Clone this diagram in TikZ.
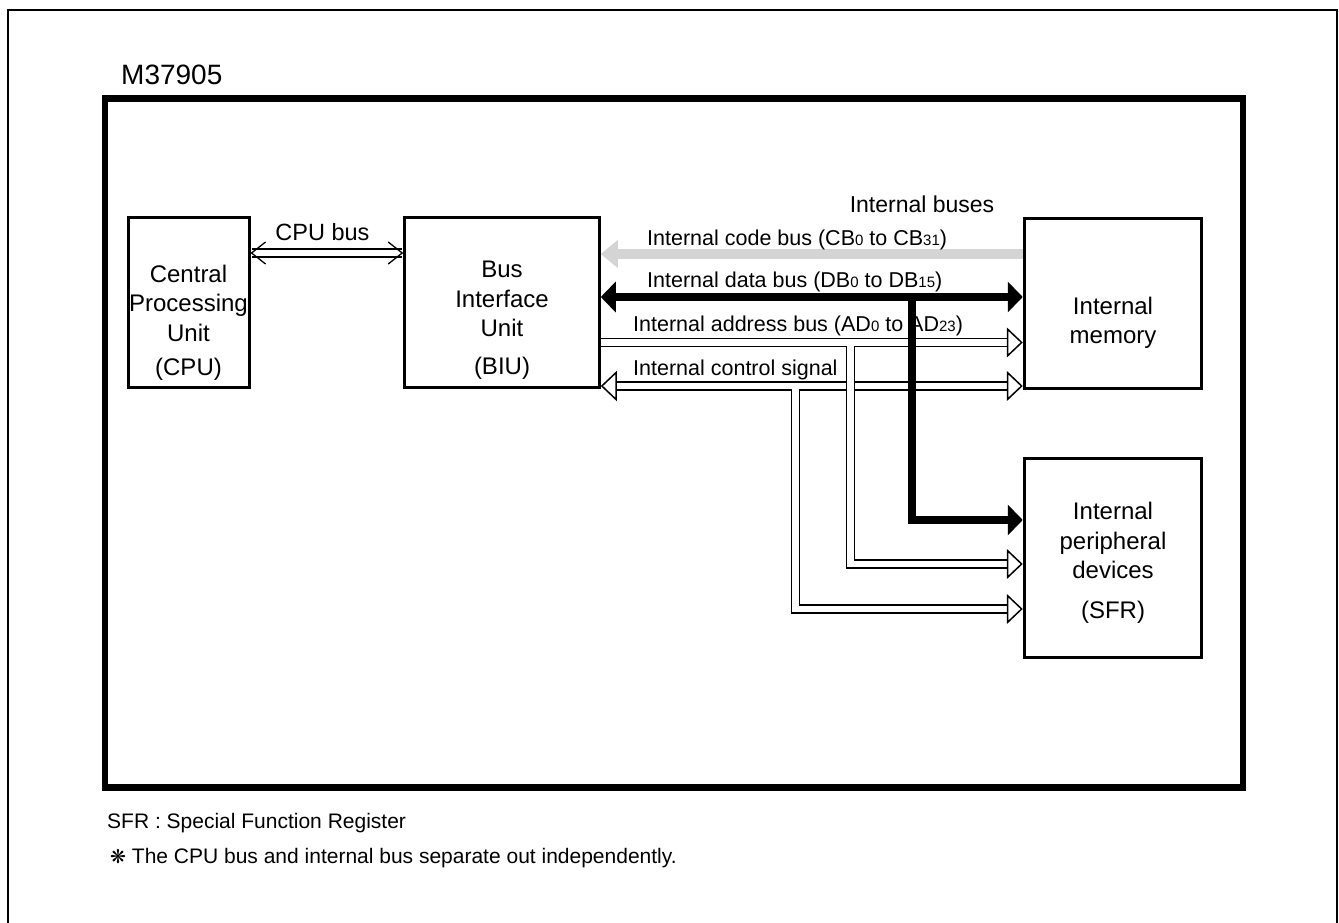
\documentclass[tikz,border=0pt]{standalone}
\usepackage{fontspec}
\setmainfont{Liberation Sans}
\newfontfamily\symfont{DejaVu Sans}
\usetikzlibrary{arrows.meta,positioning}

\newcommand\busidx[1]{{\fontsize{15}{15}\selectfont #1}}

\begin{document}
\begin{tikzpicture}[x=1pt,y=-1pt,
    block/.style={draw, line width=3pt, inner sep=0pt},
    blocktext/.style={align=center, inner sep=0pt, font=\fontsize{24}{29.5}\selectfont},
    buslabel/.style={anchor=base west, inner sep=0pt, font=\fontsize{21.5}{24}\selectfont},
    sigbus/.style={line width=1.6pt, double=white, double distance=6.6pt, line join=miter},
    opentip/.tip={Triangle[length=16pt, width=30pt, line width=1.5pt, fill=white]},
    databus/.style={line width=8.5pt, line join=miter},
    datatip/.tip={Triangle[length=15pt, width=30pt]},
    codebus/.style={line width=10pt, draw=black!17},
    cpubus/.style={line width=1.3pt, double=white, double distance=6.5pt}]
   \useasboundingbox (0,0) rectangle (1339,923);
   \draw[line width=2pt] (7.5,930) -- (7.5,10) -- (1337,10) -- (1337,930);
   \draw[line width=6.5pt] (105,98.5) rectangle (1243,787.5);
   \node[anchor=base west, inner sep=0pt, font=\fontsize{28}{30}\selectfont] (chip) at (121,85) {M37905};

   % units
   \node[block, minimum width=121pt, minimum height=170pt] (cpu) at (188.5,302) {};
   \node[block, minimum width=194.5pt, minimum height=170pt] (biu) at (502,302) {};
   \node[block, minimum width=177.5pt, minimum height=170pt] (mem) at (1113,303) {};
   \node[block, minimum width=177.5pt, minimum height=199pt] (sfr) at (1113,557.5) {};
   \node[blocktext] (cputext) at (188.5,323) {Central\\Processing\\Unit\\[5pt](CPU)};
   \node[blocktext] (biutext) at (502,320) {Bus\\Interface\\Unit\\[8pt](BIU)};
   \node[blocktext] (memtext) at (1113,323) {Internal\\memory};
   \node[blocktext] (sfrtext) at (1113,563) {Internal\\peripheral\\devices\\[10pt](SFR)};

   % bus levels
   \coordinate (ycpu) at (0,253);
   \coordinate (ycode) at (0,254);
   \coordinate (ydata) at (0,297);
   \coordinate (yaddr) at (0,342.5);
   \coordinate (yctrl) at (0,386);
   \coordinate (dsplit) at (912,297);
   \coordinate (asplit) at (850.5,342.5);
   \coordinate (csplit) at (795.5,386);
   \coordinate (dend) at (sfr.west |- 0,520);
   \coordinate (aend) at (sfr.west |- 0,564);
   \coordinate (cend) at (sfr.west |- 0,609);

   \draw[cpubus, {Straight Barb[length=14pt, width=22pt, line width=1.3pt]}-{Straight Barb[length=14pt, width=22pt, line width=1.3pt]}]
      (cpu.east |- ycpu) -- (biu.west |- ycpu);
   \draw[codebus, -{Triangle[length=17pt, width=27pt]}] (mem.west |- ycode) -- (biu.east |- ycode);
   \draw[sigbus, {opentip}-{opentip}] (csplit) |- ([xshift=-15pt]cend)
      (biu.east |- yctrl) -- (mem.west |- yctrl);
   \draw[sigbus, -{opentip}] ([xshift=-30pt]cend) -- (cend);
   \draw[sigbus, -{opentip}] (asplit) |- ([xshift=-15pt]aend)
      (biu.east |- yaddr) -- (mem.west |- yaddr);
   \draw[sigbus, -{opentip}] ([xshift=-30pt]aend) -- (aend);
   \draw[databus, {datatip}-{datatip}] (biu.east |- ydata) -- (mem.west |- ydata);
   \draw[databus, -{datatip}] (dsplit) |- (dend);

   \node[anchor=base, inner sep=0pt, font=\fontsize{23.5}{24}\selectfont] (cpulabel) at (322.5,240) {CPU bus};
   \node[anchor=base, inner sep=0pt, font=\fontsize{23}{24}\selectfont] (buses) at (922,212) {Internal buses};
   \node[buslabel] (codelabel) at (647,245) {Internal code bus (CB\busidx{0} to CB\busidx{31})};
   \node[buslabel] (datalabel) at (647,287) {Internal data bus (DB\busidx{0} to DB\busidx{15})};
   \node[buslabel] (addrlabel) at (633,331) {Internal address bus (AD\busidx{0} to AD\busidx{23})};
   \node[buslabel] (ctrllabel) at (633,375) {Internal control signal};

   \node[anchor=base west, inner sep=0pt, font=\fontsize{21}{24}\selectfont] (note1) at (107,828) {SFR : Special Function Register};
   \node[anchor=base west, inner sep=0pt, font=\fontsize{21}{24}\selectfont] (note2) at (110,863) {{\symfont\fontsize{19}{19}\selectfont ❋} The CPU bus and internal bus separate out independently.};
\end{tikzpicture}
\end{document}
